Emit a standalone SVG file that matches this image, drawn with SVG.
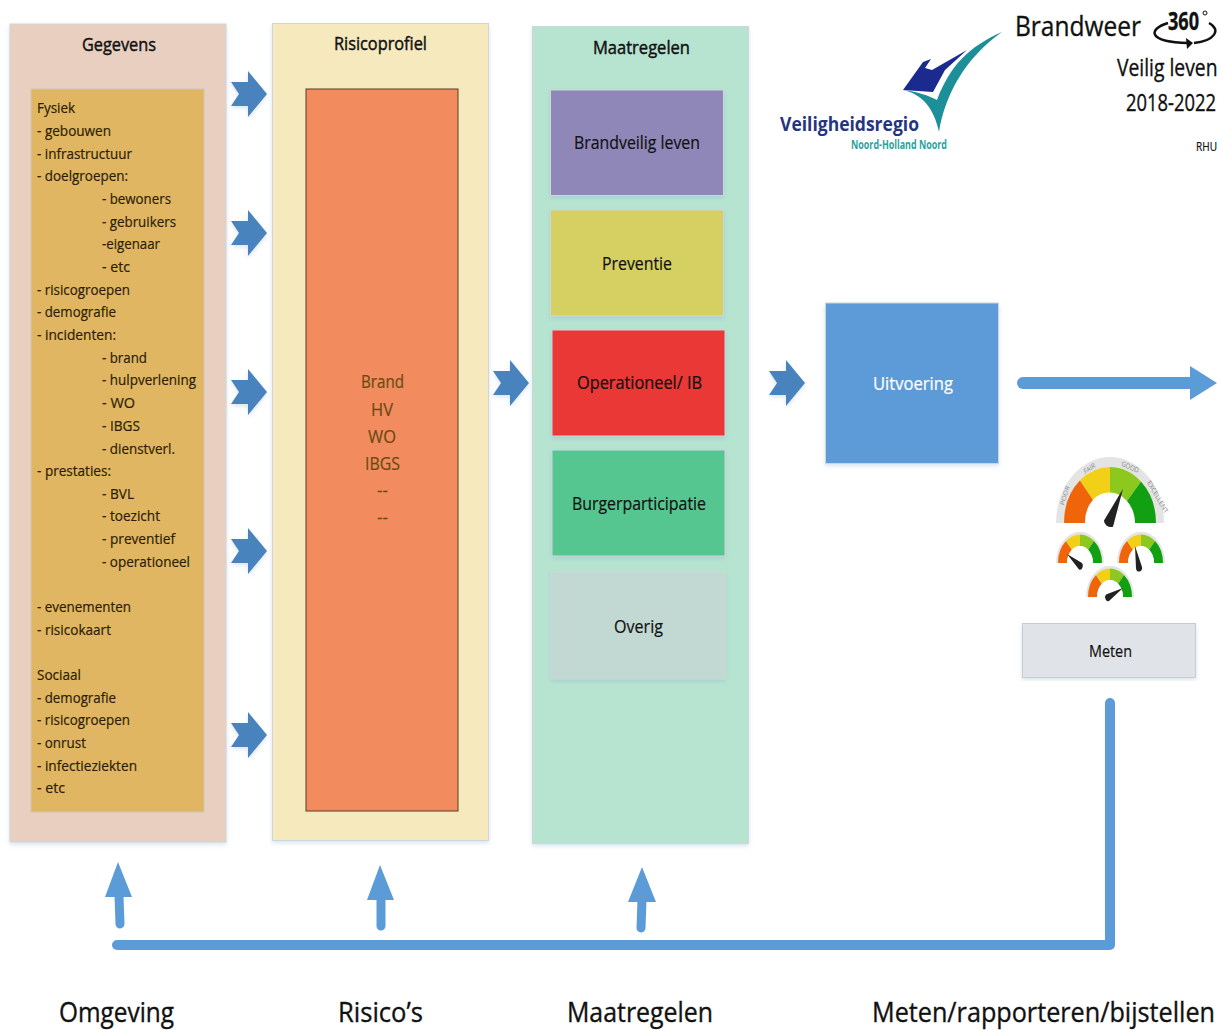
<svg xmlns="http://www.w3.org/2000/svg" width="1217" height="1030" viewBox="0 0 1217 1030">
<style>
text{font-family:"Open Sans","Liberation Sans",sans-serif;fill:#111;stroke:currentColor}
.l{font-size:15px;fill:#2b1d05;stroke:#2b1d05;stroke-width:.2px}
.h{font-size:18px;stroke:#111;stroke-width:.45px}
.n{font-size:18px;stroke:#111;stroke-width:.2px}
.c{font-size:18px;fill:#6b4a12;stroke:#6b4a12;stroke-width:.2px}
.b{font-size:28px;stroke:#111;stroke-width:.35px}
.t{stroke:#111;stroke-width:.35px}
.box{stroke:#cfd6da;stroke-width:1;filter:url(#sh)}
.rim{fill:#e4e4e4}.g1{fill:#f0640a}.g2{fill:#f3d018}.g3{fill:#8cc81e}.g4{fill:#12a012}
</style>
<defs>
<filter id="sh" x="-5%" y="-5%" width="110%" height="110%"><feDropShadow dx="0" dy="2" stdDeviation="2" flood-color="#7fa3c8" flood-opacity=".3"/></filter>
<path id="ch" d="M-18 -12H-1V-23L18 0L-1 23V12H-18L-10 0Z" fill="#4a83bd" filter="url(#sh)"/>
<g id="sg"><path class="rim" d="M-24 0A24 24 0 0 1 24 0Z"/><path class="g1" d="M-22 0A22 22 0 0 1 -14 -17L-8 -10A13 13 0 0 0 -13 0Z"/><path class="g2" d="M-14 -17A22 22 0 0 1 0 -22V-13A13 13 0 0 0 -8 -10Z"/><path class="g3" d="M0 -22A22 22 0 0 1 14 -17L8 -10A13 13 0 0 0 0 -13Z"/><path class="g4" d="M14 -17A22 22 0 0 1 22 0H13A13 13 0 0 0 8 -10Z"/><path d="M-13 0A13 13 0 0 1 13 0Z" fill="#fff"/></g>
</defs>
<g id="gegevens"><rect x="10" y="24" width="216" height="818" fill="#e8cfc0" class="box"/>
<text class="h" x="82" y="51" textLength="74" lengthAdjust="spacingAndGlyphs">Gegevens</text>
<rect x="31" y="89" width="173" height="723" fill="#e0b662" stroke="#d2c6b2"/>
<g>
<text x="37" y="113" class="l" textLength="38" lengthAdjust="spacingAndGlyphs">Fysiek</text>
<text x="37" y="136" class="l" textLength="74" lengthAdjust="spacingAndGlyphs">- gebouwen</text>
<text x="37" y="159" class="l" textLength="95" lengthAdjust="spacingAndGlyphs">- infrastructuur</text>
<text x="37" y="181" class="l" textLength="91" lengthAdjust="spacingAndGlyphs">- doelgroepen:</text>
<text x="102" y="204" class="l" textLength="69" lengthAdjust="spacingAndGlyphs">- bewoners</text>
<text x="102" y="227" class="l" textLength="74" lengthAdjust="spacingAndGlyphs">- gebruikers</text>
<text x="102" y="249" class="l" textLength="58" lengthAdjust="spacingAndGlyphs">-eigenaar</text>
<text x="102" y="272" class="l" textLength="28" lengthAdjust="spacingAndGlyphs">- etc</text>
<text x="37" y="295" class="l" textLength="93" lengthAdjust="spacingAndGlyphs">- risicogroepen</text>
<text x="37" y="317" class="l" textLength="79" lengthAdjust="spacingAndGlyphs">- demografie</text>
<text x="37" y="340" class="l" textLength="79" lengthAdjust="spacingAndGlyphs">- incidenten:</text>
<text x="102" y="363" class="l" textLength="45" lengthAdjust="spacingAndGlyphs">- brand</text>
<text x="102" y="385" class="l" textLength="94" lengthAdjust="spacingAndGlyphs">- hulpverlening</text>
<text x="102" y="408" class="l" textLength="33" lengthAdjust="spacingAndGlyphs">- WO</text>
<text x="102" y="431" class="l" textLength="38" lengthAdjust="spacingAndGlyphs">- IBGS</text>
<text x="102" y="454" class="l" textLength="73" lengthAdjust="spacingAndGlyphs">- dienstverl.</text>
<text x="37" y="476" class="l" textLength="74" lengthAdjust="spacingAndGlyphs">- prestaties:</text>
<text x="102" y="499" class="l" textLength="32" lengthAdjust="spacingAndGlyphs">- BVL</text>
<text x="102" y="521" class="l" textLength="58" lengthAdjust="spacingAndGlyphs">- toezicht</text>
<text x="102" y="544" class="l" textLength="73" lengthAdjust="spacingAndGlyphs">- preventief</text>
<text x="102" y="567" class="l" textLength="88" lengthAdjust="spacingAndGlyphs">- operationeel</text>
<text x="37" y="612" class="l" textLength="94" lengthAdjust="spacingAndGlyphs">- evenementen</text>
<text x="37" y="635" class="l" textLength="74" lengthAdjust="spacingAndGlyphs">- risicokaart</text>
<text x="37" y="680" class="l" textLength="44" lengthAdjust="spacingAndGlyphs">Sociaal</text>
<text x="37" y="703" class="l" textLength="79" lengthAdjust="spacingAndGlyphs">- demografie</text>
<text x="37" y="725" class="l" textLength="93" lengthAdjust="spacingAndGlyphs">- risicogroepen</text>
<text x="37" y="748" class="l" textLength="49" lengthAdjust="spacingAndGlyphs">- onrust</text>
<text x="37" y="771" class="l" textLength="100" lengthAdjust="spacingAndGlyphs">- infectieziekten</text>
<text x="37" y="793" class="l" textLength="28" lengthAdjust="spacingAndGlyphs">- etc</text>
</g></g>
<g id="risicoprofiel"><rect x="272.500" y="23.500" width="216" height="817" fill="#f6e9bd" class="box"/>
<text class="h" x="334" y="50" textLength="93" lengthAdjust="spacingAndGlyphs">Risicoprofiel</text>
<rect x="306" y="89" width="152" height="722" fill="#f28c5f" stroke="#5a3a20"/>
<text class="c" x="361" y="388" textLength="43" lengthAdjust="spacingAndGlyphs">Brand</text>
<text class="c" x="371" y="416" textLength="22" lengthAdjust="spacingAndGlyphs">HV</text>
<text class="c" x="368" y="443" textLength="28" lengthAdjust="spacingAndGlyphs">WO</text>
<text class="c" x="365" y="470" textLength="35" lengthAdjust="spacingAndGlyphs">IBGS</text>
<text class="c" x="377" y="497" textLength="11" lengthAdjust="spacingAndGlyphs">--</text>
<text class="c" x="377" y="524" textLength="11" lengthAdjust="spacingAndGlyphs">--</text></g>
<g id="maatregelen"><rect x="532.500" y="26.500" width="216" height="817" fill="#b6e4d1" class="box"/>
<text class="h" x="593" y="54" textLength="97" lengthAdjust="spacingAndGlyphs">Maatregelen</text></g>
<g id="brandveilig"><rect x="550.500" y="90" width="173" height="105.500" fill="#8f87b8" class="box"/><text class="n" x="574" y="149" textLength="126" lengthAdjust="spacingAndGlyphs">Brandveilig leven</text></g>
<g id="preventie"><rect x="550.500" y="210" width="173" height="106" fill="#d6cf62" class="box"/><text class="n" x="602" y="270" textLength="70" lengthAdjust="spacingAndGlyphs">Preventie</text></g>
<g id="operationeel"><rect x="552" y="330" width="173" height="106" fill="#e93735" class="box"/><text class="n" x="577" y="389" textLength="125" lengthAdjust="spacingAndGlyphs">Operationeel/ IB</text></g>
<g id="burger"><rect x="552" y="450" width="173" height="106" fill="#55c690" class="box"/><text class="n" x="572" y="510" textLength="134" lengthAdjust="spacingAndGlyphs">Burgerparticipatie</text></g>
<g id="overig"><rect x="551" y="572" width="174" height="107" fill="#c2d9d3" class="box"/><text class="n" x="614" y="633" textLength="49" lengthAdjust="spacingAndGlyphs">Overig</text></g>
<g id="uitvoering"><rect x="825.500" y="303" width="173" height="160.500" fill="#5b9bd8" class="box"/><text x="873" y="390" font-size="18" textLength="80" lengthAdjust="spacingAndGlyphs" style="fill:#fff;stroke:#fff;stroke-width:.2px">Uitvoering</text></g>
<g id="meten"><rect x="1022.500" y="623.500" width="173" height="54" fill="#e0e4e8" class="box" style="stroke:#c8cccf"/><text class="t" x="1089" y="657" font-size="16" textLength="43" lengthAdjust="spacingAndGlyphs" style="stroke-width:.2px">Meten</text></g>
<g id="connectors">
<use href="#ch" x="249" y="94"/><use href="#ch" x="249" y="233"/><use href="#ch" x="249" y="392"/><use href="#ch" x="249" y="551"/><use href="#ch" x="249" y="735"/><use href="#ch" x="511" y="383"/><use href="#ch" x="787" y="383"/>
<path d="M1023 383H1190" stroke="#5b9bd8" stroke-width="12" stroke-linecap="round" fill="none"/><path d="M1190 366L1217 383L1190 400Z" fill="#5b9bd8"/>
<path d="M1110 703V945H117" stroke="#5b9bd8" stroke-width="10" stroke-linecap="round" stroke-linejoin="round" fill="none"/>
<path d="M119 896L120 924M381 896V926M642 900L641 928" stroke="#5b9bd8" stroke-width="9" stroke-linecap="round" fill="none"/>
<path d="M105 897L118 862L132 897ZM367 900L380 865L394 900ZM628 902L642 867L656 902Z" fill="#5b9bd8"/>
</g>
<g id="footer">
<text class="b" x="59" y="1022" textLength="115" lengthAdjust="spacingAndGlyphs">Omgeving</text>
<text class="b" x="338" y="1022" textLength="85" lengthAdjust="spacingAndGlyphs">Risico’s</text>
<text class="b" x="567" y="1022" textLength="146" lengthAdjust="spacingAndGlyphs">Maatregelen</text>
<text class="b" transform="translate(872,1022) scale(.9,1)">Meten/rapporteren/bijstellen</text>
</g>
<g id="title">
<text class="t" x="1015" y="36" font-size="28" textLength="126" lengthAdjust="spacingAndGlyphs">Brandweer</text>
<text class="t" x="1168" y="30" font-size="25" font-weight="700" textLength="31" lengthAdjust="spacingAndGlyphs">360</text>
<circle cx="1205" cy="13" r="2" fill="none" stroke="#111"/>
<path d="M1168 23C1148 29 1147 42 1188 43M1209 23C1222 30 1214 41 1194 43" fill="none" stroke="#111" stroke-width="2.500"/><path d="M1186 38L1193 43L1187 49Z" fill="#111"/>
<text class="t" font-size="23" transform="translate(1117,76) scale(.84,1)">Veilig leven</text>
<text class="t" font-size="23" transform="translate(1126,111) scale(.8,1)">2018-2022</text>
<text x="1196" y="151" font-size="12" textLength="21" lengthAdjust="spacingAndGlyphs" style="stroke:#111;stroke-width:.2px">RHU</text>
</g>
<g id="logo">
<path d="M903 90L923 62L931 59L925 68L932 70L967 50L945 70L933 92Z" fill="#1a2a8f"/>
<path d="M903 90C922 94 934 108 939 132C945 95 965 58 1002 32C968 47 950 66 937 100C930 96 915 91 903 90Z" fill="#1d8f98"/>
<text x="780" y="131" font-size="19" font-weight="700" style="fill:#25357f;stroke:none" textLength="139" lengthAdjust="spacingAndGlyphs">Veiligheidsregio</text>
<text x="851" y="149" font-size="12" font-weight="700" style="fill:#2aa39e;stroke:none" textLength="96" lengthAdjust="spacingAndGlyphs">Noord-Holland Noord</text>
</g>
<g id="gauges">
<g transform="translate(1110,523) scale(1,1.22)"><path class="rim" d="M-54 0A54 54 0 0 1 54 0H46A46 46 0 0 0 -46 0Z"/><path class="g1" d="M-46 0A46 46 0 0 1 -30 -35L-17 -19A25 25 0 0 0 -25 0Z"/><path class="g2" d="M-30 -35A46 46 0 0 1 0 -46V-25A25 25 0 0 0 -17 -19Z"/><path class="g3" d="M0 -46A46 46 0 0 1 31 -34L17 -18A25 25 0 0 0 0 -25Z"/><path class="g4" d="M31 -34A46 46 0 0 1 46 0H25A25 25 0 0 0 17 -18Z"/><path d="M13 -28L-6 -2A7 5 0 0 0 3 3Z" fill="#222"/>
<text x="-46" y="-14" font-size="6" transform="rotate(-70 -46 -14)" style="fill:#888;stroke:none">POOR</text><text x="-25" y="-40" font-size="6" transform="rotate(-28 -25 -40)" style="fill:#888;stroke:none">FAIR</text><text x="11" y="-47" font-size="6" transform="rotate(20 11 -47)" style="fill:#888;stroke:none">GOOD</text><text x="37" y="-33" font-size="6" transform="rotate(55 37 -33)" style="fill:#888;stroke:none">EXCELLENT</text></g>
<g transform="translate(1080,563) scale(1,1.3)"><use href="#sg"/><path d="M-13 -7L2 0A3 3 0 0 1 -1 5Z" fill="#222"/></g>
<g transform="translate(1141,563) scale(1,1.3)"><use href="#sg"/><path d="M-6 -13L1 3A3 3 0 0 1 -5 4Z" fill="#222"/></g>
<g transform="translate(1110,597) scale(1,1.3)"><use href="#sg"/><path d="M13 -7L-4 -2A3 3 0 0 0 -1 3Z" fill="#222"/></g>
</g>
</svg>
